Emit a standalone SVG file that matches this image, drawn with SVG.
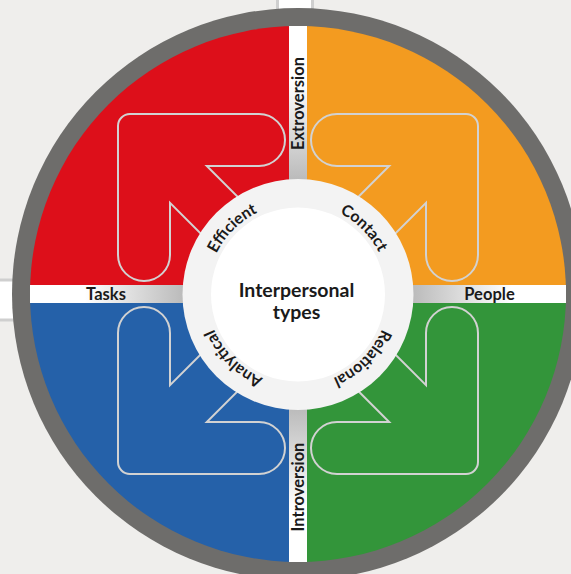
<svg xmlns="http://www.w3.org/2000/svg" xmlns:xlink="http://www.w3.org/1999/xlink" width="571" height="574" viewBox="0 0 571 574">
  <style>
    .arrow { fill: none; stroke: #d2d2d2; stroke-width: 2; stroke-linejoin: miter; }
    .lbl { font-family: Lato, "Liberation Sans", sans-serif; font-weight: 700; fill: #1a1a1a; }
    .strip { fill: #ffffff; stroke: #cfcfcf; stroke-width: 3; }
  </style>
  <defs>
    <linearGradient id="gTop" gradientUnits="userSpaceOnUse" x1="0" y1="26" x2="0" y2="182">
      <stop offset="0" stop-color="#ffffff"/>
      <stop offset="0.35" stop-color="#ffffff"/>
      <stop offset="1" stop-color="#b9b9b9"/>
    </linearGradient>
    <linearGradient id="gBottom" gradientUnits="userSpaceOnUse" x1="0" y1="562" x2="0" y2="406">
      <stop offset="0" stop-color="#ffffff"/>
      <stop offset="0.35" stop-color="#ffffff"/>
      <stop offset="1" stop-color="#b9b9b9"/>
    </linearGradient>
    <linearGradient id="gLeft" gradientUnits="userSpaceOnUse" x1="30" y1="0" x2="186" y2="0">
      <stop offset="0" stop-color="#ffffff"/>
      <stop offset="0.35" stop-color="#ffffff"/>
      <stop offset="1" stop-color="#b9b9b9"/>
    </linearGradient>
    <linearGradient id="gRight" gradientUnits="userSpaceOnUse" x1="566" y1="0" x2="410" y2="0">
      <stop offset="0" stop-color="#ffffff"/>
      <stop offset="0.35" stop-color="#ffffff"/>
      <stop offset="1" stop-color="#b9b9b9"/>
    </linearGradient>
    <path id="arrowShape" d="M -40,-76.8 L -91.2,-128 L -39,-128 A 26 26 0 0 0 -39,-180 L -168,-180 A 12 12 0 0 0 -180,-168 L -180,-39 A 26 26 0 0 0 -128,-39 L -128,-91.2 L -76.8,-40"/>
    <path id="labelCircle" d="M 389,294 A 91 91 0 1 1 207,294 A 91 91 0 1 1 389,294"/>
  </defs>

  <rect x="0" y="0" width="571" height="574" fill="#efeeec"/>

  <g id="frame">
    <rect class="strip" x="277.5" y="-10" width="35" height="30"/>
    <rect class="strip" x="-10" y="280" width="30" height="40"/>
  </g>

  <g id="ring">
    <circle cx="298" cy="294" r="286" fill="#6e6d6b"/>
  </g>

  <g id="quadrant-efficient">
    <path d="M298,294 L30,294 A268 268 0 0 1 298,26 Z" fill="#dd0f1a"/>
  </g>
  <g id="quadrant-contact">
    <path d="M298,294 L298,26 A268 268 0 0 1 566,294 Z" fill="#f39b20"/>
  </g>
  <g id="quadrant-relational">
    <path d="M298,294 L566,294 A268 268 0 0 1 298,562 Z" fill="#33953a"/>
  </g>
  <g id="quadrant-analytical">
    <path d="M298,294 L298,562 A268 268 0 0 1 30,294 Z" fill="#2561a9"/>
  </g>

  <g id="connectors" transform="translate(298,294)">
    <use href="#arrowShape" class="arrow"/>
    <use href="#arrowShape" class="arrow" transform="rotate(90)"/>
    <use href="#arrowShape" class="arrow" transform="rotate(180)"/>
    <use href="#arrowShape" class="arrow" transform="rotate(270)"/>
  </g>

  <g id="axis-extroversion">
    <rect x="289" y="26" width="18" height="160" fill="url(#gTop)"/>
    <text class="lbl" font-size="16.5" text-anchor="middle" transform="translate(304,103.5) rotate(-90)">Extroversion</text>
  </g>
  <g id="axis-introversion">
    <rect x="289" y="402" width="18" height="160" fill="url(#gBottom)"/>
    <text class="lbl" font-size="16.5" text-anchor="middle" transform="translate(304,487) rotate(-90)">Introversion</text>
  </g>
  <g id="axis-tasks">
    <rect x="30" y="285" width="156" height="18" fill="url(#gLeft)"/>
    <text class="lbl" font-size="16.5" text-anchor="middle" x="106" y="300">Tasks</text>
  </g>
  <g id="axis-people">
    <rect x="410" y="285" width="156" height="18" fill="url(#gRight)"/>
    <text class="lbl" font-size="16.5" text-anchor="middle" x="489.5" y="300">People</text>
  </g>

  <g id="center">
    <circle cx="298" cy="294.5" r="115.5" fill="#f3f3f3"/>
    <circle cx="298" cy="294.5" r="87" fill="#ffffff"/>
    <text class="lbl" font-size="19.5" text-anchor="middle" x="296.5" y="297">Interpersonal</text>
    <text class="lbl" font-size="19.5" text-anchor="middle" x="296.5" y="319">types</text>
  </g>

  <g id="type-labels">
    <text class="lbl" font-size="16"><textPath href="#labelCircle" startOffset="12.5%" text-anchor="middle">Relational</textPath></text>
    <text class="lbl" font-size="16"><textPath href="#labelCircle" startOffset="37.5%" text-anchor="middle">Analytical</textPath></text>
    <text class="lbl" font-size="16"><textPath href="#labelCircle" startOffset="62.5%" text-anchor="middle">Efficient</textPath></text>
    <text class="lbl" font-size="16"><textPath href="#labelCircle" startOffset="87.5%" text-anchor="middle">Contact</textPath></text>
  </g>
</svg>
